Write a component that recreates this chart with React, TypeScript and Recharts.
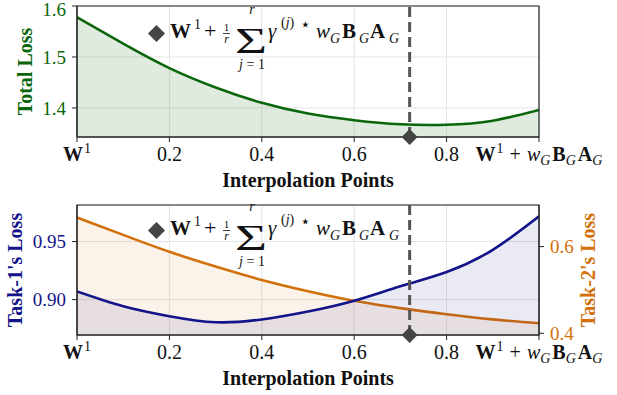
import React from "react";
import {
  ComposedChart,
  Area,
  XAxis,
  YAxis,
  CartesianGrid,
  ReferenceLine,
  ReferenceDot,
  ReferenceArea,
} from "recharts";

const interpPoints = [0, 0.1, 0.2, 0.3, 0.4, 0.5, 0.6, 0.7, 0.8, 0.9, 1.0];
const totalLoss = [1.578, 1.526, 1.478, 1.44, 1.41, 1.389, 1.376, 1.368, 1.367, 1.375, 1.396];
const task1Loss = [0.907, 0.8943, 0.8857, 0.8805, 0.8829, 0.8897, 0.899, 0.9114, 0.9237, 0.9429, 0.9717];
const task2Loss = [0.667, 0.627, 0.588, 0.554, 0.523, 0.497, 0.475, 0.458, 0.444, 0.432, 0.423];

const xTicks = [0, 0.2, 0.4, 0.6, 0.8, 1];
const totalTicks = [1.4, 1.5, 1.6];
const task1Ticks = [0.9, 0.95];
const task2Ticks = [0.4, 0.6];
const totalDomain = [1.343, 1.6];
const task1Domain = [0.8695, 0.9815];
const task2Domain = [0.396, 0.696];
const optimum = 0.72;

const topData = interpPoints.map((x, i) => ({ x, total: totalLoss[i] }));
const bottomData = interpPoints.map((x, i) => ({ x, task1: task1Loss[i], task2: task2Loss[i] }));

const SERIF = "'Liberation Serif', 'Times New Roman', serif";
const GREEN = "#0a660a";
const NAVY = "#14148a";
const ORANGE = "#d2700a";
const MARK = "#444444";

// x tick: W^1 at start, W^1 + w_G B_G A_G at the end
function XTick(props: any) {
  const { x, y, payload } = props;
  const v = payload.value;
  const base = { x, y: y + 15, textAnchor: "middle" as const, fontFamily: SERIF, fontSize: 20, fill: "#111" };
  if (v === 0) {
    return (
      <text {...base}>
        <tspan fontWeight="bold">W</tspan>
        <tspan fontSize={14} dy={-8} dx={1}>1</tspan>
      </text>
    );
  }
  if (v === 1) {
    return (
      <text {...base}>
        <tspan fontWeight="bold">W</tspan>
        <tspan fontSize={14} dy={-8} dx={1}>1</tspan>
        <tspan dy={8} dx={1}> + </tspan>
        <tspan fontStyle="italic" dx={1}>w</tspan>
        <tspan fontStyle="italic" fontSize={14} dy={4}>G</tspan>
        <tspan fontWeight="bold" dy={-4} dx={2}>B</tspan>
        <tspan fontStyle="italic" fontSize={14} dy={4}>G</tspan>
        <tspan fontWeight="bold" dy={-4} dx={2}>A</tspan>
        <tspan fontStyle="italic" fontSize={14} dy={4}>G</tspan>
      </text>
    );
  }
  return <text {...base}>{v.toFixed(1)}</text>;
}

function YTick(props: any) {
  const { x, y, payload, color, digits, anchor } = props;
  return (
    <text x={x} y={y} dy="0.35em" textAnchor={anchor} fontFamily={SERIF} fontSize={19} fill={color}>
      {payload.value.toFixed(digits)}
    </text>
  );
}

function Diamond(props: any) {
  const { cx, cy } = props;
  const h = 8;
  return <polygon points={`${cx},${cy - h} ${cx + h},${cy} ${cx},${cy + h} ${cx - h},${cy}`} fill={MARK} />;
}

const xLabel = (props: any) => {
  const vb = props.viewBox || {};
  return (
    <text x={308} y={vb.y + 50} textAnchor="middle" fontFamily={SERIF} fontSize={20} fontWeight="bold" fill="#111">
      Interpolation Points
    </text>
  );
};

const yLabel = (text: string, cx: number, color: string) => (props: any) => {
  const vb = props.viewBox || {};
  const cy = vb.y + vb.height / 2;
  return (
    <text
      x={cx}
      y={cy}
      dy="0.35em"
      transform={`rotate(-90 ${cx} ${cy})`}
      textAnchor="middle"
      fontFamily={SERIF}
      fontSize={20}
      fontWeight="bold"
      fill={color}
    >
      {text}
    </text>
  );
};

// formula annotation  ◆ W^1 + 1/r Σ γ^(j)⋆ w_G B_G A_G
function Formula({ dy }: { dy: number }) {
  const t = { fontFamily: SERIF, fill: "#111" };
  const b = 38 + dy;
  return (
    <g>
      <polygon points={`156.5,${25 + dy} 165,${33.5 + dy} 156.5,${42 + dy} 148,${33.5 + dy}`} fill={MARK} />
      <text {...t} x={170} y={b} fontSize={21} fontWeight="bold">W</text>
      <text {...t} x={194} y={b - 9} fontSize={14}>1</text>
      <text {...t} x={204} y={b} fontSize={22}>+</text>
      <text {...t} x={226.5} y={b - 7} fontSize={11} textAnchor="middle">1</text>
      <line x1={223} x2={230} y1={b - 4.5} y2={b - 4.5} stroke="#111" strokeWidth={0.8} />
      <text {...t} x={226.5} y={b + 5} fontSize={12} fontStyle="italic" textAnchor="middle">r</text>
      <text {...t} x={235} y={b + 15} fontSize={35} textLength={32} lengthAdjust="spacingAndGlyphs">Σ</text>
      <text {...t} x={252} y={b - 24} fontSize={14} fontStyle="italic" textAnchor="middle">r</text>
      <text {...t} x={252} y={b + 31} fontSize={14} textAnchor="middle">
        <tspan fontStyle="italic">j</tspan> = 1
      </text>
      <text {...t} x={268} y={b} fontSize={21} fontStyle="italic">γ</text>
      <text {...t} x={281} y={b - 11} fontSize={14}>
        (<tspan fontStyle="italic">j</tspan>)
      </text>
      <text x={300} y={b - 8} fontSize={17} fill="#111" fontFamily="'DejaVu Sans', sans-serif">⋆</text>
      <text {...t} x={316} y={b} fontSize={21} fontStyle="italic">w</text>
      <text {...t} x={330} y={b + 5} fontSize={14} fontStyle="italic">G</text>
      <text {...t} x={342} y={b} fontSize={21} fontWeight="bold">B</text>
      <text {...t} x={359} y={b + 5} fontSize={14} fontStyle="italic">G</text>
      <text {...t} x={370} y={b} fontSize={21} fontWeight="bold">A</text>
      <text {...t} x={389} y={b + 5} fontSize={14} fontStyle="italic">G</text>
    </g>
  );
}

export default function App() {
  return (
    <div style={{ position: "absolute", left: 0, top: 0, width: 617, height: 395, background: "#fff", fontFamily: SERIF }}>
      <div style={{ position: "absolute", left: 0, top: 0 }}>
        <ComposedChart width={617} height={195} data={topData} margin={{ top: 6, right: 78, left: 0, bottom: 0 }}>
          <CartesianGrid stroke="#e4e4e4" strokeWidth={1} />
          <XAxis
            dataKey="x"
            type="number"
            domain={[0, 1]}
            ticks={xTicks}
            height={58}
            tickSize={5}
            tickMargin={4}
            stroke="#222"
            tick={<XTick />}
            label={xLabel}
            allowDataOverflow
          />
          <YAxis
            domain={totalDomain}
            ticks={totalTicks}
            width={77}
            tickSize={5}
            tickMargin={6}
            stroke="#222"
            tick={<YTick color={GREEN} digits={1} anchor="end" />}
            label={yLabel("Total Loss", 24.5, GREEN)}
            allowDataOverflow
          />
          <Area
            type="natural"
            dataKey="total"
            stroke={GREEN}
            strokeWidth={2.6}
            fill={GREEN}
            fillOpacity={0.13}
            dot={false}
            activeDot={false}
            isAnimationActive={false}
          />
          <ReferenceArea x1={0} x2={1} y1={totalDomain[0]} y2={totalDomain[1]} fillOpacity={0} stroke="#222" strokeWidth={1.2} />
          <ReferenceLine x={optimum} stroke="#555" strokeWidth={3} strokeDasharray="10 5" />
          <ReferenceDot x={optimum} y={totalDomain[0]} shape={<Diamond />} ifOverflow="visible" />
        </ComposedChart>
      </div>
      <div style={{ position: "absolute", left: 0, top: 195 }}>
        <ComposedChart width={617} height={200} data={bottomData} margin={{ top: 10, right: 0, left: 0, bottom: 0 }}>
          <CartesianGrid stroke="#e4e4e4" strokeWidth={1} yAxisId="left" />
          <XAxis
            dataKey="x"
            type="number"
            domain={[0, 1]}
            ticks={xTicks}
            height={60}
            tickSize={5}
            tickMargin={4}
            stroke="#222"
            tick={<XTick />}
            label={xLabel}
            allowDataOverflow
          />
          <YAxis
            yAxisId="left"
            domain={task1Domain}
            ticks={task1Ticks}
            width={77}
            tickSize={5}
            tickMargin={6}
            stroke="#222"
            tick={<YTick color={NAVY} digits={2} anchor="end" />}
            label={yLabel("Task-1's Loss", 15, NAVY)}
            allowDataOverflow
          />
          <YAxis
            yAxisId="right"
            orientation="right"
            domain={task2Domain}
            ticks={task2Ticks}
            width={78}
            tickSize={5}
            tickMargin={6}
            stroke="#222"
            tick={<YTick color={ORANGE} digits={1} anchor="start" />}
            label={yLabel("Task-2's Loss", 587.5, ORANGE)}
            allowDataOverflow
          />
          <Area
            yAxisId="right"
            type="natural"
            dataKey="task2"
            stroke={ORANGE}
            strokeWidth={2.6}
            fill={ORANGE}
            fillOpacity={0.09}
            dot={false}
            activeDot={false}
            isAnimationActive={false}
          />
          <Area
            yAxisId="left"
            type="natural"
            dataKey="task1"
            stroke={NAVY}
            strokeWidth={2.6}
            fill={NAVY}
            fillOpacity={0.09}
            dot={false}
            activeDot={false}
            isAnimationActive={false}
          />
          <ReferenceArea yAxisId="left" x1={0} x2={1} y1={task1Domain[0]} y2={task1Domain[1]} fillOpacity={0} stroke="#222" strokeWidth={1.2} />
          <ReferenceLine yAxisId="left" x={optimum} stroke="#555" strokeWidth={3} strokeDasharray="10 5" />
          <ReferenceDot yAxisId="left" x={optimum} y={task1Domain[0]} shape={<Diamond />} ifOverflow="visible" />
        </ComposedChart>
      </div>
      <svg width={617} height={395} style={{ position: "absolute", left: 0, top: 0, pointerEvents: "none" }}>
        <Formula dy={0} />
        <Formula dy={197} />
      </svg>
    </div>
  );
}
